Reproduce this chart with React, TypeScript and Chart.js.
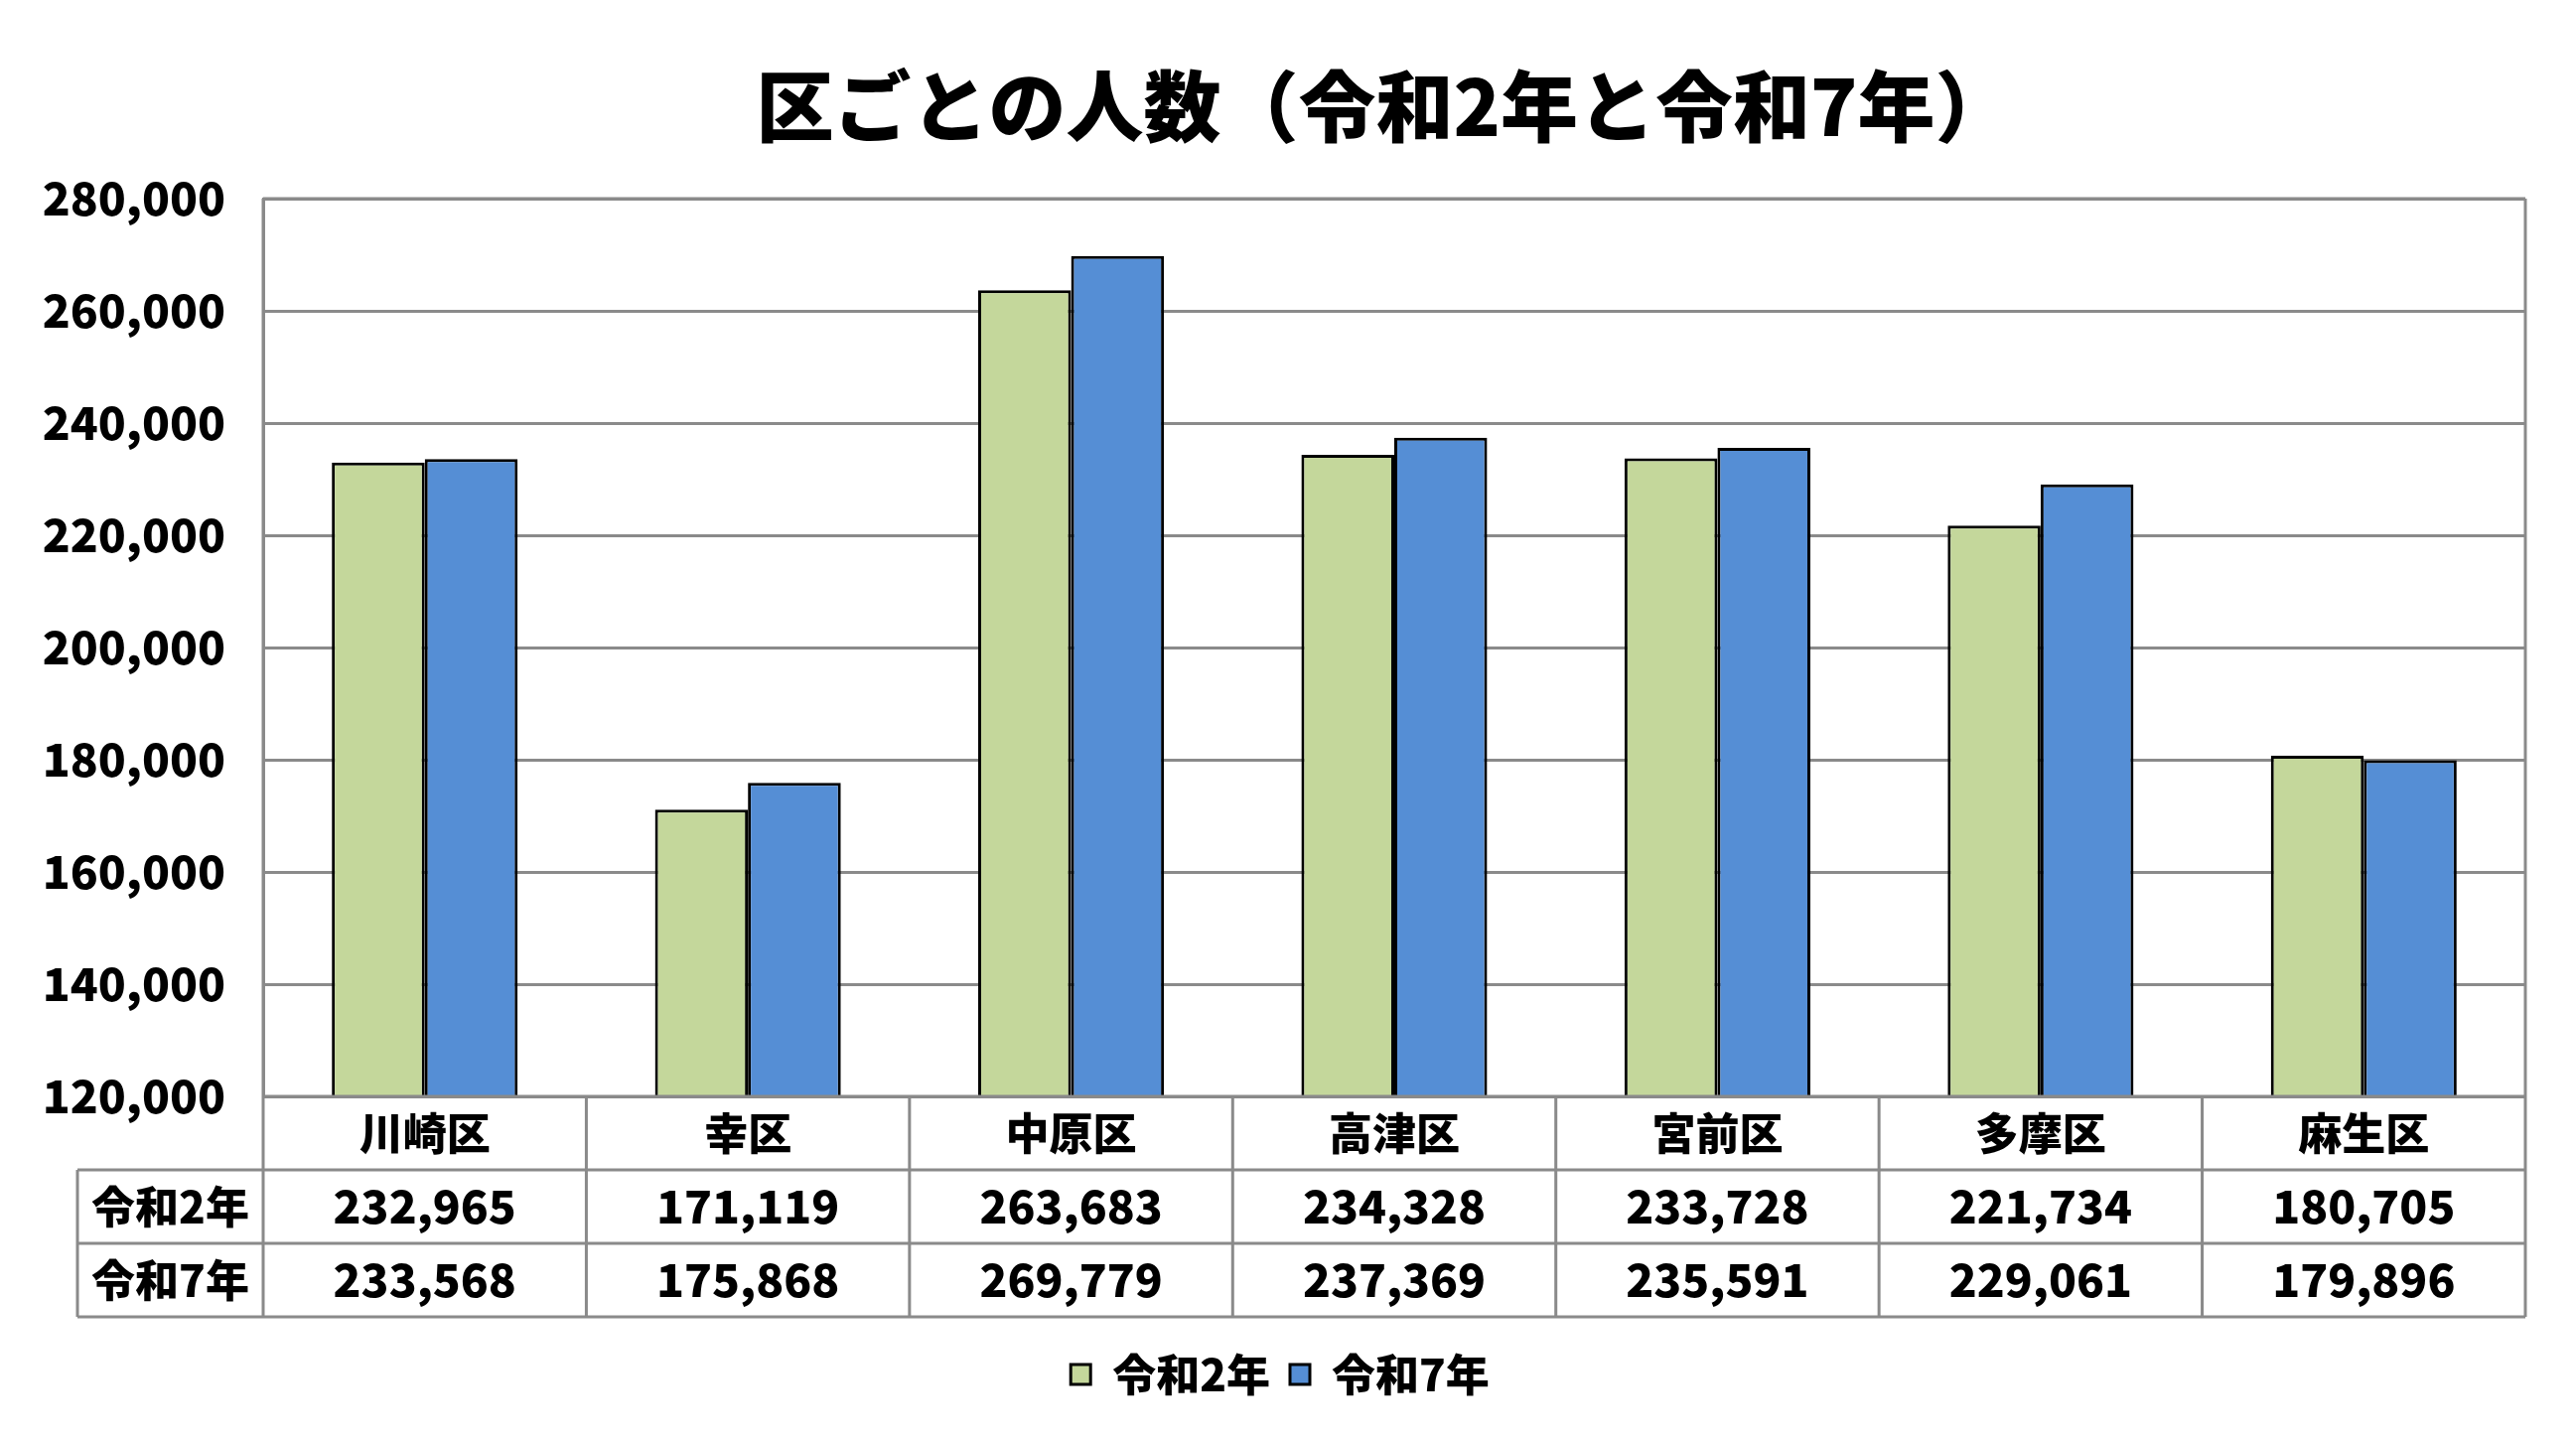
import React, { useEffect, useRef } from 'react';
import { Chart, registerables } from 'chart.js';

Chart.register(...registerables);

const TITLE = '区ごとの人数（令和2年と令和7年）';
const CATEGORIES = ['川崎区', '幸区', '中原区', '高津区', '宮前区', '多摩区', '麻生区'];
const SERIES_NAMES = ['令和2年', '令和7年'];
const VALUES_R2 = [232965, 171119, 263683, 234328, 233728, 221734, 180705];
const VALUES_R7 = [233568, 175868, 269779, 237369, 235591, 229061, 179896];
const Y_MIN = 120000;
const Y_MAX = 280000;
const Y_STEP = 20000;

const FONT = '"Noto Sans CJK JP", "Noto Sans", sans-serif';
const GRID = '#8a8a8a';
const GREEN = '#C4D79B';
const BLUE = '#558ED5';

const fmt = (v: number) => v.toLocaleString('en-US');

const titlePlugin = {
  id: 'customTitle',
  afterDraw(chart: any) {
    const { ctx, chartArea } = chart;
    ctx.save();
    ctx.fillStyle = '#000';
    ctx.font = `900 78px ${FONT}`;
    ctx.textAlign = 'center';
    ctx.textBaseline = 'middle';
    ctx.fillText(TITLE, (chartArea.left + chartArea.right) / 2 - 10, 107);
    ctx.restore();
  },
};

const tablePlugin = {
  id: 'dataTable',
  afterDraw(chart: any) {
    const { ctx, chartArea } = chart;
    const x = chart.scales.x;
    const rowH = 74;
    const top = chartArea.bottom;
    const labelLeft = 78;
    const left = chartArea.left;
    const right = chartArea.right;
    const rows = [top, top + rowH, top + rowH * 2, top + rowH * 3];
    ctx.save();
    ctx.strokeStyle = GRID;
    ctx.lineWidth = 3;
    ctx.beginPath();
    ctx.moveTo(left, chartArea.top);
    ctx.lineTo(left, top);
    ctx.moveTo(right, chartArea.top);
    ctx.lineTo(right, top);
    ctx.moveTo(left, chartArea.top);
    ctx.lineTo(right, chartArea.top);
    ctx.moveTo(left, rows[0]);
    ctx.lineTo(right, rows[0]);
    for (let r = 1; r < rows.length; r++) {
      ctx.moveTo(labelLeft, rows[r]);
      ctx.lineTo(right, rows[r]);
    }
    ctx.moveTo(labelLeft, rows[1]);
    ctx.lineTo(labelLeft, rows[3]);
    for (let i = 0; i <= CATEGORIES.length; i++) {
      const px = x.getPixelForValue(i - 0.5);
      ctx.moveTo(px, rows[0]);
      ctx.lineTo(px, rows[3]);
    }
    ctx.stroke();

    ctx.fillStyle = '#000';
    ctx.textAlign = 'center';
    ctx.textBaseline = 'middle';
    ctx.font = `900 44px ${FONT}`;
    CATEGORIES.forEach((c, i) => {
      ctx.fillText(c, x.getPixelForValue(i), rows[0] + rowH / 2);
    });
    const labelCx = (labelLeft + left) / 2;
    ctx.fillText(SERIES_NAMES[0], labelCx, rows[1] + rowH / 2);
    ctx.fillText(SERIES_NAMES[1], labelCx, rows[2] + rowH / 2);
    ctx.font = `900 46px ${FONT}`;
    VALUES_R2.forEach((v, i) => {
      ctx.fillText(fmt(v), x.getPixelForValue(i), rows[1] + rowH / 2);
    });
    VALUES_R7.forEach((v, i) => {
      ctx.fillText(fmt(v), x.getPixelForValue(i), rows[2] + rowH / 2);
    });
    ctx.restore();
  },
};

export default function App() {
  const ref = useRef<HTMLCanvasElement | null>(null);

  useEffect(() => {
    document.body.style.margin = '0';
    if (!ref.current) return;
    const chart = new Chart(ref.current, {
      type: 'bar',
      data: {
        labels: CATEGORIES,
        datasets: [
          {
            label: SERIES_NAMES[0],
            data: VALUES_R2,
            backgroundColor: GREEN,
            borderColor: '#000',
            borderWidth: 3,
            borderSkipped: false,
          },
          {
            label: SERIES_NAMES[1],
            data: VALUES_R7,
            backgroundColor: BLUE,
            borderColor: '#000',
            borderWidth: 3,
            borderSkipped: false,
          },
        ],
      },
      options: {
        responsive: false,
        devicePixelRatio: 1,
        animation: false,
        layout: { padding: { left: 35, right: 51, top: 200, bottom: 34 } },
        datasets: {
          bar: { categoryPercentage: 0.575, barPercentage: 1 },
        },
        plugins: {
          title: { display: false },
          tooltip: { enabled: false },
          legend: {
            display: true,
            position: 'bottom',
            labels: {
              color: '#000',
              font: { family: FONT, size: 44, weight: '900' },
              boxWidth: 20,
              boxHeight: 20,
              padding: 20,
            },
          },
        },
        scales: {
          x: {
            display: true,
            ticks: { display: false },
            grid: { display: false },
            border: { display: false },
            afterFit: (s: any) => {
              s.height = 238;
            },
          },
          y: {
            min: Y_MIN,
            max: Y_MAX,
            ticks: {
              stepSize: Y_STEP,
              color: '#000',
              padding: 38,
              font: { family: FONT, size: 46, weight: '900' },
              callback: (v: any) => fmt(Number(v)),
            },
            grid: { color: GRID, lineWidth: 3, drawTicks: false },
            border: { display: true, color: GRID, width: 3 },
            afterFit: (s: any) => {
              s.width = 230;
            },
          },
        },
      },
      plugins: [titlePlugin, tablePlugin],
    });
    return () => chart.destroy();
  }, []);

  return (
    <div style={{ width: 2594, height: 1450 }}>
      <canvas ref={ref} width={2594} height={1450} />
    </div>
  );
}
